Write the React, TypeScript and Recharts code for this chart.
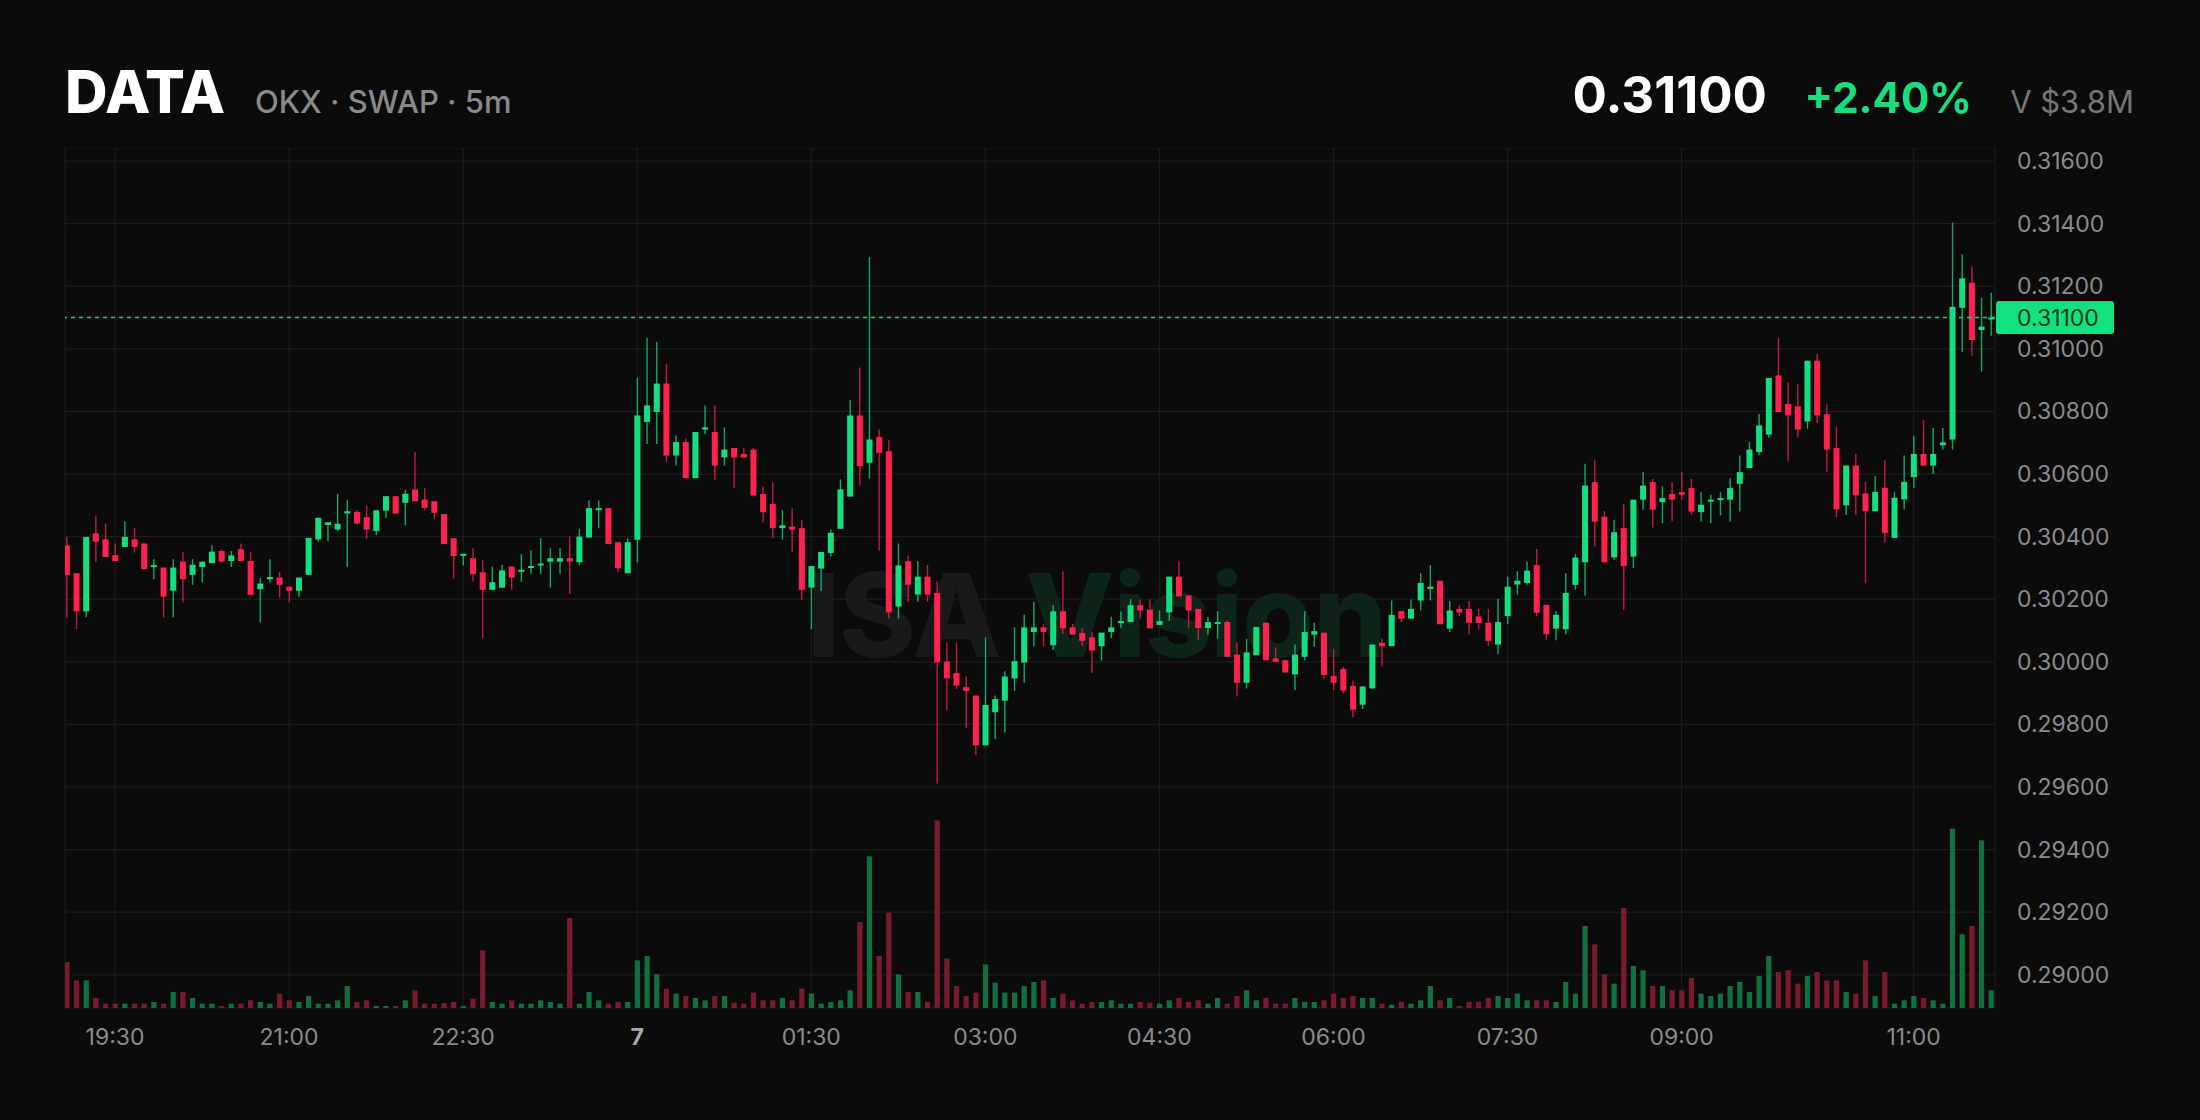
import { ComposedChart, Bar, XAxis, YAxis, CartesianGrid, ReferenceLine } from 'recharts'

// 5m candles, 19:05 -> 11:40
const opens = [
  0.30372, 0.30283, 0.30161, 0.3041, 0.30391, 0.30341, 0.30367, 0.30391, 0.30378, 0.30304,
  0.30301, 0.30227, 0.3032, 0.30278, 0.30303, 0.30315, 0.30354, 0.30322, 0.3036, 0.30322,
  0.30232, 0.30264, 0.30269, 0.3024, 0.30227, 0.30278, 0.30391, 0.30437, 0.30423, 0.30474,
  0.30479, 0.30462, 0.30418, 0.30483, 0.30529, 0.30508, 0.3055, 0.30518, 0.30513, 0.30472,
  0.30395, 0.3034, 0.30331, 0.30286, 0.3023, 0.30237, 0.30304, 0.30288, 0.30301, 0.30308,
  0.3032, 0.3032, 0.30331, 0.30318, 0.30397, 0.30485, 0.30491, 0.30382, 0.30283, 0.3039,
  0.30766, 0.30798, 0.30889, 0.30659, 0.30702, 0.30587, 0.30742, 0.30734, 0.30653, 0.30683,
  0.30664, 0.30678, 0.30536, 0.30504, 0.30427, 0.30432, 0.30427, 0.30237, 0.30298, 0.30348,
  0.30425, 0.30528, 0.30787, 0.30636, 0.30718, 0.30673, 0.30177, 0.30321, 0.30215, 0.30272,
  0.3022, 0.30001, 0.29964, 0.29919, 0.29892, 0.29733, 0.29839, 0.29876, 0.29947, 0.29998,
  0.30095, 0.3011, 0.30053, 0.30161, 0.3011, 0.30092, 0.30078, 0.3005, 0.30095, 0.30124,
  0.30127, 0.30181, 0.30167, 0.30118, 0.30158, 0.30272, 0.30212, 0.30169, 0.30108, 0.30121,
  0.30127, 0.30023, 0.29933, 0.30021, 0.30125, 0.30011, 0.30005, 0.2996, 0.30016, 0.30087,
  0.30093, 0.29955, 0.29977, 0.29923, 0.29863, 0.29915, 0.30061, 0.3005, 0.30162, 0.30138,
  0.30196, 0.30233, 0.30259, 0.30106, 0.30169, 0.30169, 0.30145, 0.30125, 0.30055, 0.30146,
  0.30247, 0.30252, 0.30309, 0.30182, 0.30106, 0.30104, 0.30246, 0.30318, 0.30574, 0.30464,
  0.30334, 0.30427, 0.30336, 0.30518, 0.30574, 0.3051, 0.30536, 0.30542, 0.30555, 0.30478,
  0.30512, 0.30518, 0.30518, 0.30569, 0.30619, 0.3067, 0.30726, 0.30915, 0.30824, 0.30816,
  0.30768, 0.30962, 0.30791, 0.30683, 0.305, 0.30627, 0.30538, 0.30481, 0.30556, 0.30396,
  0.30519, 0.3059, 0.30664, 0.30627, 0.30692, 0.3071, 0.31131, 0.31211, 0.3106, 0.31095,
]

const highs = [
  0.30399, 0.30283, 0.30399, 0.30467, 0.30442, 0.30378, 0.30449, 0.30428, 0.30378, 0.30328,
  0.30301, 0.30328, 0.30352, 0.30328, 0.3032, 0.30372, 0.3036, 0.30354, 0.30378, 0.30352,
  0.30267, 0.30328, 0.30288, 0.3024, 0.30269, 0.30396, 0.3046, 0.30446, 0.30537, 0.30518,
  0.30484, 0.30499, 0.30484, 0.30529, 0.30529, 0.3055, 0.3067, 0.30555, 0.30513, 0.30472,
  0.30395, 0.30345, 0.30363, 0.30324, 0.30304, 0.3031, 0.30304, 0.30344, 0.30356, 0.30395,
  0.30363, 0.30363, 0.304, 0.30425, 0.30515, 0.30515, 0.30491, 0.30382, 0.30395, 0.30907,
  0.31035, 0.31022, 0.30952, 0.30723, 0.30713, 0.30734, 0.30819, 0.30819, 0.30749, 0.30683,
  0.30683, 0.30683, 0.3056, 0.30574, 0.30484, 0.30491, 0.30454, 0.30306, 0.30351, 0.30423,
  0.30583, 0.30836, 0.3094, 0.31293, 0.30742, 0.30708, 0.30378, 0.3034, 0.30321, 0.30309,
  0.30257, 0.30061, 0.30061, 0.29953, 0.29892, 0.30078, 0.29892, 0.2997, 0.3011, 0.3015,
  0.30192, 0.30121, 0.30181, 0.30289, 0.30121, 0.30107, 0.30095, 0.30093, 0.30144, 0.30161,
  0.302, 0.302, 0.302, 0.30164, 0.30272, 0.30323, 0.30212, 0.30169, 0.30143, 0.30162,
  0.30132, 0.30061, 0.30074, 0.30111, 0.30125, 0.30045, 0.30005, 0.30055, 0.30162, 0.30125,
  0.30093, 0.30042, 0.29984, 0.2994, 0.29921, 0.30055, 0.30074, 0.30196, 0.30162, 0.30199,
  0.30283, 0.30309, 0.30259, 0.30194, 0.3018, 0.30194, 0.30169, 0.30169, 0.30201, 0.30272,
  0.30289, 0.3032, 0.3036, 0.30182, 0.30162, 0.30283, 0.30344, 0.30633, 0.30644, 0.30482,
  0.30454, 0.30504, 0.30518, 0.30606, 0.30585, 0.3056, 0.30574, 0.30606, 0.30585, 0.30542,
  0.30534, 0.30542, 0.30587, 0.30659, 0.30702, 0.30792, 0.30907, 0.31035, 0.30893, 0.30887,
  0.30962, 0.30984, 0.30823, 0.30752, 0.30627, 0.30664, 0.30575, 0.30593, 0.30644, 0.30543,
  0.30659, 0.30722, 0.30773, 0.30747, 0.30747, 0.31403, 0.31301, 0.31264, 0.31163, 0.31179,
]

const lows = [
  0.30141, 0.30105, 0.30142, 0.3032, 0.30335, 0.30322, 0.30367, 0.30349, 0.30296, 0.30264,
  0.30142, 0.30142, 0.3019, 0.30246, 0.30253, 0.30315, 0.30317, 0.30303, 0.30322, 0.30214,
  0.30126, 0.30253, 0.30206, 0.3019, 0.30208, 0.30278, 0.30384, 0.30386, 0.30418, 0.30304,
  0.30439, 0.30394, 0.30405, 0.3046, 0.30474, 0.30436, 0.30513, 0.30484, 0.30455, 0.30376,
  0.30267, 0.30308, 0.30256, 0.30075, 0.3023, 0.30237, 0.3023, 0.30256, 0.30281, 0.30281,
  0.30237, 0.30281, 0.30217, 0.30308, 0.30397, 0.30427, 0.30376, 0.30286, 0.30283, 0.30318,
  0.30696, 0.30696, 0.30638, 0.30627, 0.30587, 0.30587, 0.30728, 0.3058, 0.30627, 0.30555,
  0.30653, 0.30531, 0.30446, 0.30395, 0.3039, 0.30352, 0.30198, 0.30104, 0.30226, 0.30337,
  0.30425, 0.30528, 0.30564, 0.30585, 0.30355, 0.30138, 0.30138, 0.30192, 0.30192, 0.30192,
  0.29611, 0.29845, 0.29913, 0.29788, 0.29702, 0.29733, 0.29753, 0.29774, 0.29907, 0.29933,
  0.3005, 0.3005, 0.30038, 0.3009, 0.30087, 0.3005, 0.29964, 0.30004, 0.30075, 0.30109,
  0.30127, 0.30138, 0.30107, 0.30118, 0.3013, 0.30209, 0.30109, 0.30069, 0.30085, 0.30074,
  0.30016, 0.29889, 0.29915, 0.30021, 0.30005, 0.29998, 0.29966, 0.2991, 0.30005, 0.30048,
  0.29947, 0.2991, 0.299, 0.29823, 0.29849, 0.29915, 0.29986, 0.3005, 0.30127, 0.30138,
  0.30164, 0.30196, 0.3012, 0.30095, 0.30146, 0.30088, 0.30104, 0.30051, 0.30024, 0.3012,
  0.30215, 0.30247, 0.30146, 0.30071, 0.30069, 0.30088, 0.3023, 0.30211, 0.30368, 0.30318,
  0.30326, 0.30166, 0.30299, 0.30486, 0.30429, 0.30443, 0.30449, 0.30518, 0.3047, 0.30448,
  0.30443, 0.30468, 0.30448, 0.3048, 0.30619, 0.3066, 0.30717, 0.30798, 0.30641, 0.30717,
  0.30745, 0.30763, 0.30607, 0.30462, 0.30469, 0.30469, 0.30251, 0.30481, 0.3038, 0.30396,
  0.30487, 0.30556, 0.30627, 0.306, 0.30678, 0.30678, 0.30989, 0.30978, 0.30927, 0.31042,
]

const closes = [
  0.30277, 0.30161, 0.30399, 0.30384, 0.30335, 0.30322, 0.30399, 0.30367, 0.30296, 0.30309,
  0.30208, 0.30301, 0.30264, 0.3031, 0.3032, 0.30352, 0.3032, 0.3034, 0.30322, 0.30214,
  0.3025, 0.30271, 0.30246, 0.30227, 0.30269, 0.30396, 0.3046, 0.30446, 0.30441, 0.30481,
  0.30442, 0.30423, 0.30484, 0.30529, 0.30474, 0.30537, 0.30513, 0.30492, 0.30476, 0.30376,
  0.30338, 0.30345, 0.30281, 0.3023, 0.30254, 0.30292, 0.30269, 0.30294, 0.30306, 0.30314,
  0.30331, 0.30331, 0.3032, 0.304, 0.30491, 0.30491, 0.30376, 0.30299, 0.30382, 0.30787,
  0.30819, 0.30889, 0.30659, 0.30702, 0.30587, 0.30734, 0.30749, 0.30627, 0.30678, 0.30653,
  0.30653, 0.30531, 0.30478, 0.30427, 0.30436, 0.30422, 0.3023, 0.30306, 0.30351, 0.30412,
  0.30551, 0.30787, 0.30625, 0.3071, 0.30668, 0.30158, 0.30308, 0.30246, 0.30272, 0.30215,
  0.29998, 0.29947, 0.29924, 0.29907, 0.29733, 0.29862, 0.29881, 0.29953, 0.30002, 0.3011,
  0.3011, 0.30095, 0.30161, 0.30107, 0.30087, 0.30067, 0.30036, 0.30093, 0.3011, 0.3013,
  0.30181, 0.30164, 0.30107, 0.3013, 0.30272, 0.30209, 0.30164, 0.30108, 0.30127, 0.30127,
  0.30016, 0.29933, 0.3003, 0.30111, 0.30005, 0.3, 0.29966, 0.30023, 0.30095, 0.30098,
  0.29958, 0.29933, 0.29908, 0.29847, 0.29921, 0.30055, 0.3005, 0.3015, 0.30138, 0.30169,
  0.30252, 0.3024, 0.3012, 0.30164, 0.30157, 0.30125, 0.30124, 0.30067, 0.30127, 0.3024,
  0.30259, 0.30291, 0.30157, 0.30088, 0.3015, 0.3022, 0.30333, 0.30563, 0.30448, 0.30318,
  0.30414, 0.30306, 0.30518, 0.30563, 0.30486, 0.30523, 0.30518, 0.30534, 0.3048, 0.30502,
  0.30518, 0.30523, 0.30555, 0.30606, 0.30678, 0.30755, 0.30907, 0.30798, 0.30787, 0.30742,
  0.30962, 0.30787, 0.30678, 0.30487, 0.30627, 0.30532, 0.30481, 0.30543, 0.30412, 0.30524,
  0.30575, 0.30664, 0.30627, 0.30664, 0.30701, 0.31134, 0.31225, 0.31028, 0.31071, 0.311,
]

// volume in relative units
const volumes = [
  138, 83, 83, 30, 13, 13, 13, 13, 13, 18,
  13, 48, 48, 30, 13, 13, 6, 13, 13, 23,
  18, 13, 43, 23, 18, 36, 13, 13, 23, 66,
  18, 23, 6, 6, 6, 23, 53, 13, 13, 15,
  18, 6, 28, 173, 18, 13, 23, 13, 13, 23,
  18, 13, 270, 13, 48, 23, 13, 18, 18, 143,
  156, 101, 58, 43, 36, 30, 23, 36, 36, 16,
  13, 46, 23, 23, 30, 23, 58, 43, 13, 18,
  23, 53, 258, 455, 156, 286, 101, 48, 48, 18,
  563, 148, 66, 36, 46, 131, 76, 46, 46, 66,
  78, 83, 30, 43, 23, 13, 18, 18, 23, 13,
  13, 18, 16, 13, 23, 30, 18, 23, 13, 30,
  13, 36, 53, 23, 30, 13, 13, 30, 18, 18,
  23, 43, 30, 36, 30, 30, 13, 10, 18, 13,
  23, 66, 23, 30, 6, 18, 18, 30, 36, 30,
  43, 23, 23, 23, 18, 78, 43, 246, 191, 101,
  73, 300, 126, 113, 66, 66, 53, 53, 90, 43,
  36, 43, 66, 78, 48, 96, 156, 108, 113, 73,
  96, 108, 83, 83, 48, 43, 143, 36, 108, 13,
  23, 36, 30, 23, 13, 538, 221, 246, 503, 53,
]

const timeTicks = [6, 24, 42, 60, 78, 96, 114, 132, 150, 168, 192]
const timeLabels = ['19:30', '21:00', '22:30', '7', '01:30', '03:00', '04:30', '06:00', '07:30', '09:00', '11:00']
const priceTicks = [0.29, 0.292, 0.294, 0.296, 0.298, 0.3, 0.302, 0.304, 0.306, 0.308, 0.31, 0.312, 0.314, 0.316]
const lastPrice = 0.311

const UP = '#14df80'
const DOWN = '#ff2150'
const VOL_UP = '#11703f'
const VOL_DOWN = '#7b1a2d'
const FONT = 'Inter, "Noto Sans", sans-serif'

const data = opens.map((o, k) => ({
  i: k + 1,
  o,
  h: highs[k],
  l: lows[k],
  c: closes[k],
  v: volumes[k],
  range: [lows[k], highs[k]],
}))

function Candle(props: any) {
  const { x, y, width, height, payload } = props
  const { o, h, l, c } = payload
  const cx = x + width / 2
  const span = h - l
  const py = (v: number) => (span > 0 ? y + ((h - v) / span) * height : y)
  const up = c >= o
  const color = up ? UP : DOWN
  const top = py(Math.max(o, c))
  const bot = py(Math.min(o, c))
  return (
    <g>
      <line x1={cx} x2={cx} y1={y} y2={y + height} stroke={color} strokeWidth={1.4} strokeOpacity={0.75} />
      <rect x={cx - 3} y={top} width={6} height={Math.max(bot - top, 2)} fill={color} />
    </g>
  )
}

function VolBar(props: any) {
  const { x, y, width, height, payload } = props
  const cx = x + width / 2
  return <rect x={cx - 2.6} y={y} width={5.2} height={Math.max(height, 0)} fill={payload.c >= payload.o ? VOL_UP : VOL_DOWN} />
}

function PriceTick(props: any) {
  const { x, y, payload } = props
  return (
    <text x={x + 22} y={y} dominantBaseline="central" fontSize={23} fill="#8b8b8b" fontFamily={FONT}>
      {payload.value.toFixed(5)}
    </text>
  )
}

function TimeTick(props: any) {
  const { x, y, payload } = props
  const label = timeLabels[timeTicks.indexOf(payload.value)]
  const isDay = label === '7'
  return (
    <text x={x} y={y + 29} textAnchor="middle" dominantBaseline="central" fontSize={23}
      fill={isDay ? '#a8a8a8' : '#8b8b8b'} fontWeight={isDay ? 700 : 400} fontFamily={FONT}>
      {label}
    </text>
  )
}

function PriceTag(props: any) {
  const { viewBox } = props
  if (!viewBox) return null
  const left = viewBox.x + viewBox.width + 1
  const cy = viewBox.y
  return (
    <g>
      <rect x={left} y={cy - 16.5} width={118} height={33} rx={3} fill="#14e080" />
      <text x={left + 21} y={cy + 1} dominantBaseline="central" fontSize={23} fill="#063d22" fontFamily={FONT}>
        {lastPrice.toFixed(5)}
      </text>
    </g>
  )
}

export default function App() {
  return (
    <div style={{ position: 'fixed', left: 0, top: 0, width: 2200, height: 1120, background: '#0b0b0b', overflow: 'hidden' }}>
      {/* watermark */}
      <svg width={2200} height={1120} style={{ position: 'absolute', left: 0, top: 0 }}>
        <text x={807} y={657} fontSize={116} fontWeight={800} fontFamily={FONT} letterSpacing={-1}>
          <tspan fill="#191919">ISA </tspan>
          <tspan fill="#0d2519">Vision</tspan>
        </text>
      </svg>

      <div style={{ position: 'absolute', left: 0, top: 148 }}>
        <ComposedChart width={2200} height={972} data={data} margin={{ top: 0, right: 0, bottom: 52, left: 65 }}>
          <CartesianGrid xAxisId="time" yAxisId="price" stroke="#1c1c1c" strokeWidth={1.2} />
          <XAxis xAxisId="time" dataKey="i" type="number" domain={[0.824, 200.41]} allowDataOverflow
            ticks={timeTicks} interval={0} height={60} axisLine={false} tickLine={false}
            tickSize={0} tickMargin={0} tick={<TimeTick />} />
          <XAxis xAxisId="volx" dataKey="i" type="number" domain={[0.824, 200.41]} allowDataOverflow hide />
          <YAxis yAxisId="price" orientation="right" width={205} domain={[0.28894, 0.316415]} allowDataOverflow
            ticks={priceTicks} interval={0} axisLine={false} tickLine={false} tickSize={0} tickMargin={0}
            tick={<PriceTick />} />
          <YAxis yAxisId="vol" hide domain={[0, 2580]} allowDataOverflow />
          <Bar xAxisId="volx" yAxisId="vol" dataKey="v" barSize={6} shape={<VolBar />} isAnimationActive={false} />
          <Bar xAxisId="time" yAxisId="price" dataKey="range" barSize={6} shape={<Candle />} isAnimationActive={false} />
          <ReferenceLine xAxisId="time" yAxisId="price" y={lastPrice} stroke="#19d47f" strokeWidth={1.6}
            strokeDasharray="4 4" label={<PriceTag />} />
        </ComposedChart>
      </div>

      {/* header */}
      <svg width={2200} height={140} style={{ position: 'absolute', left: 0, top: 0, pointerEvents: 'none' }}>
        <text x={65} y={113} fontSize={59} fontWeight={800} fill="#ffffff" fontFamily={FONT}>DATA</text>
        <text x={255} y={113} fontSize={31} fontWeight={500} fill="#8a8a8a" fontFamily={FONT}>OKX · SWAP · 5m</text>
        <text x={1767} y={113} textAnchor="end" fontSize={51} fontWeight={700} fill="#ffffff" fontFamily={FONT}>0.31100</text>
        <text x={1972} y={113} textAnchor="end" fontSize={42} fontWeight={700} fill="#17df7f" fontFamily={FONT}>+2.40%</text>
        <text x={2134} y={113} textAnchor="end" fontSize={31} fontWeight={400} fill="#767676" fontFamily={FONT}>V $3.8M</text>
      </svg>
    </div>
  )
}
